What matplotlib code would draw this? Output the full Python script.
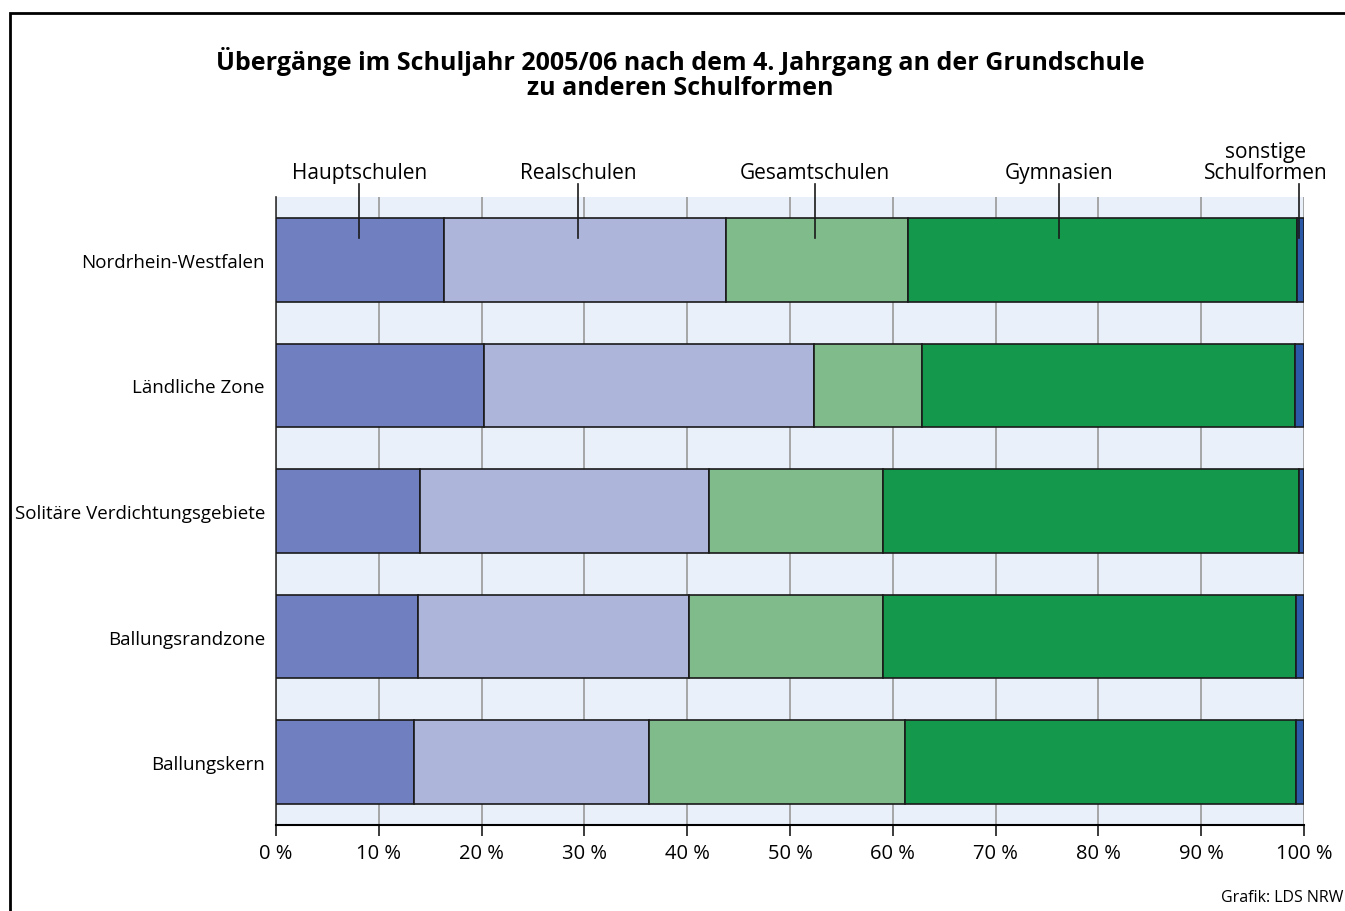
import matplotlib
matplotlib.use('Agg')
import matplotlib.pyplot as plt
from matplotlib.patches import Rectangle

plt.rcParams['font.family'] = ['Open Sans', 'DejaVu Sans']

# Data (percent shares per region)
regions = ['Nordrhein-Westfalen', 'Ländliche Zone', 'Solitäre Verdichtungsgebiete',
           'Ballungsrandzone', 'Ballungskern']
schulformen = ['Hauptschulen', 'Realschulen', 'Gesamtschulen', 'Gymnasien', 'sonstige\nSchulformen']
hauptschulen = [16.3, 20.2, 14.0, 13.8, 13.4]
realschulen = [27.5, 32.1, 28.1, 26.4, 22.9]
gesamtschulen = [17.7, 10.5, 16.9, 18.8, 24.9]
gymnasien = [37.8, 36.3, 40.5, 40.2, 38.0]
sonstige = [0.7, 0.9, 0.5, 0.8, 0.8]
colors = ['#6f7fbf', '#adb5da', '#80bb8b', '#14984b', '#2b59a8']

# label pointer positions (percent) and label text x positions
pointer_x = [8.1, 29.4, 52.4, 76.2, 99.5]
label_x = [8.1, 29.4, 52.4, 76.2, 96.3]

fig = plt.figure(figsize=(13.45, 9.12), dpi=100)
ax = fig.add_axes([276 / 1345, 1 - 826 / 912, 1028 / 1345, 628 / 912])

ax.set_facecolor('#e9f0f9')
series = [hauptschulen, realschulen, gesamtschulen, gymnasien, sonstige]
left = [0.0] * len(regions)
ypos = list(range(len(regions)))
for vals, col in zip(series, colors):
    ax.barh(ypos, vals, left=left, height=0.667, color=col, edgecolor='#1a1a1a',
            linewidth=1.2, zorder=3)
    left = [l + v for l, v in zip(left, vals)]

ax.set_xlim(0, 100)
ax.set_ylim(len(regions) - 0.5, -0.5)
ax.set_xticks(range(0, 101, 10))
ax.set_xticklabels([f'{t} %' for t in range(0, 101, 10)], fontsize=14.5)
ax.set_yticks(ypos)
ax.set_yticklabels(regions, fontsize=13.5)
ax.tick_params(axis='y', length=0, pad=8)
ax.tick_params(axis='x', length=8, width=1.2, color='#1a1a1a', pad=5)
ax.grid(axis='x', color='#999999', linewidth=1.2, zorder=1)
ax.set_axisbelow(True)
for s in ['top', 'right']:
    ax.spines[s].set_visible(False)
ax.spines['bottom'].set_linewidth(1.5)
ax.spines['left'].set_linewidth(1.2)
ax.spines['left'].set_color('#333333')

# category labels with pointer lines into the first bar
for name, px, lx in zip(schulformen, pointer_x, label_x):
    ax.plot([px, px], [-0.175, -0.6], color='#1a1a1a', linewidth=1.2, zorder=5,
            clip_on=False)
    ax.text(lx, -0.615, name, ha='center', va='bottom', fontsize=15,
            linespacing=1.0)

fig.text(680 / 1345, 1 - 74 / 912,
         'Übergänge im Schuljahr 2005/06 nach dem 4. Jahrgang an der Grundschule\nzu anderen Schulformen',
         ha='center', va='center', fontsize=18, fontweight='bold', linespacing=1.0)
fig.text(1343 / 1345, 1 - 898 / 912, 'Grafik: LDS NRW', ha='right', va='center', fontsize=11.5)

fig.patches.append(Rectangle((9.5 / 1345, -0.2), 2, 1.2 + (1 - 13.5 / 912) - 1,
                             transform=fig.transFigure, fill=False,
                             edgecolor='black', linewidth=2))

fig.savefig('out.png', dpi=100)
